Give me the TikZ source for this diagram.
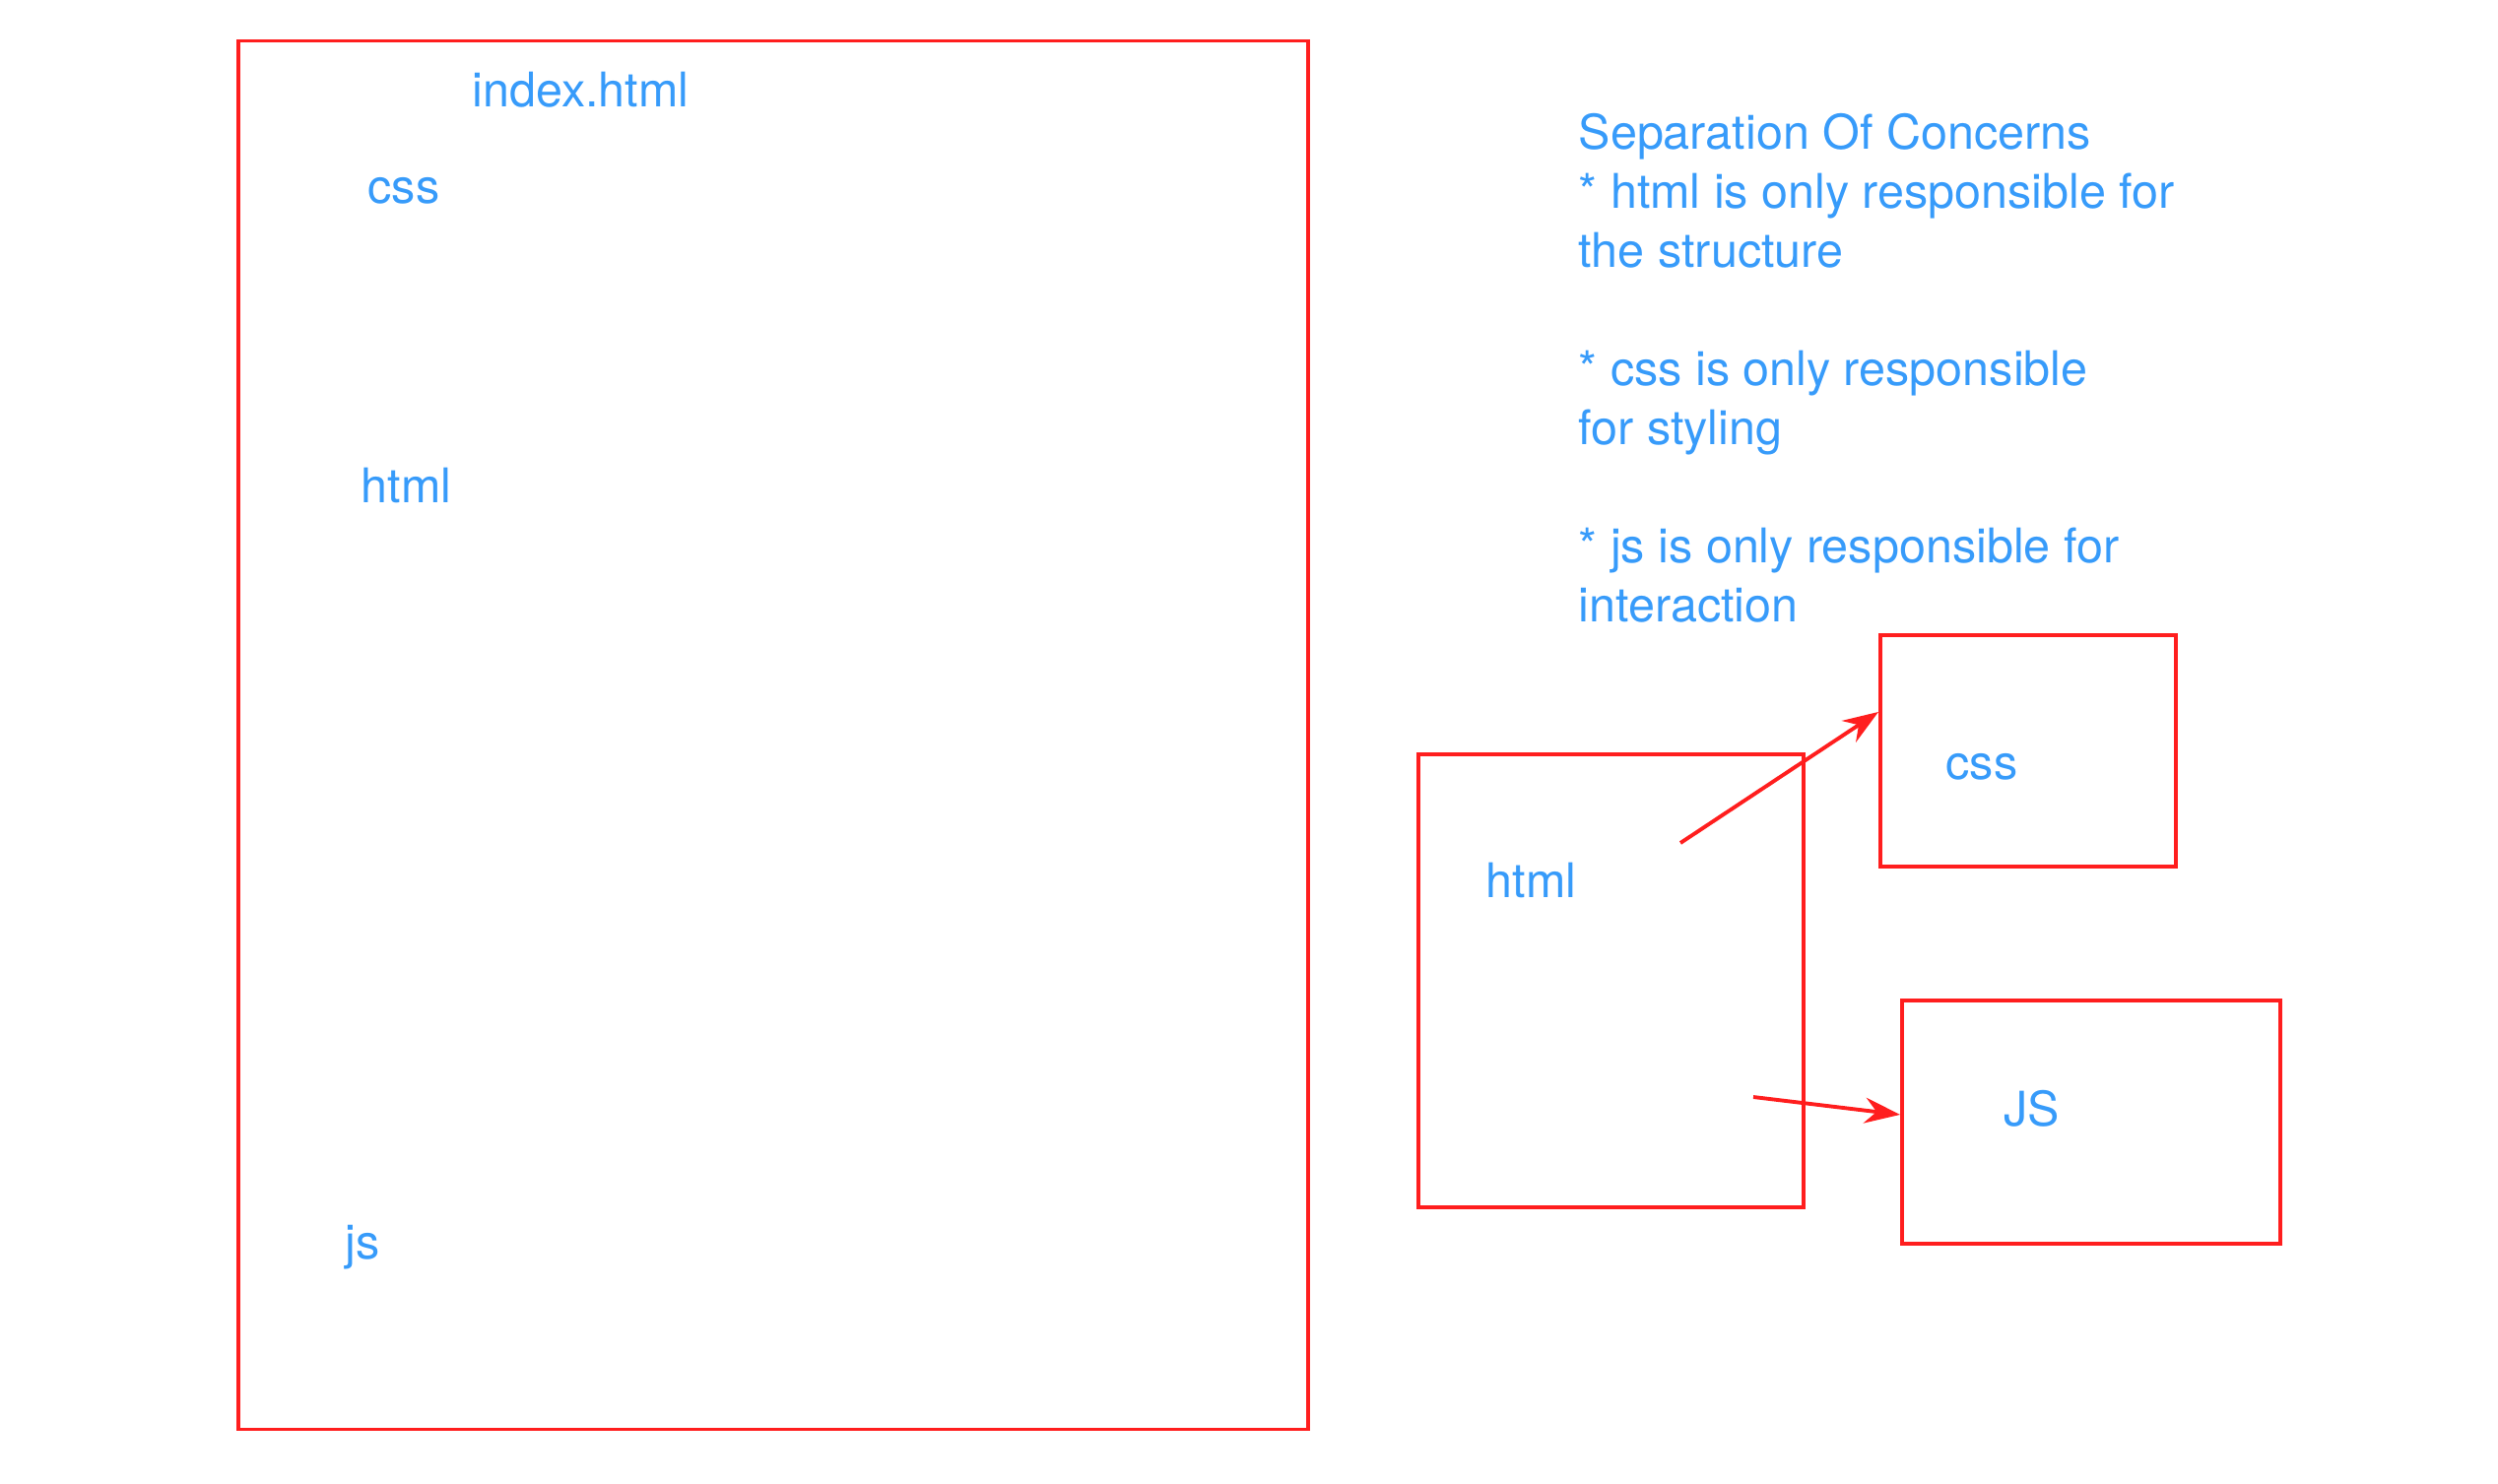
\documentclass[tikz,border=0pt]{standalone}
\usepackage{fontspec}
\setmainfont{TeX Gyre Heros}
\usepackage{xcolor}
\usepackage{tikz}
\usetikzlibrary{arrows.meta, positioning}

\definecolor{boxred}{RGB}{255,30,30}
\definecolor{textblue}{RGB}{55,155,250}

\begin{document}
\begin{tikzpicture}[
    box/.style={rectangle, draw=boxred, line width=1.1pt, inner sep=0pt, anchor=north west},
    lbl/.style={inner sep=0pt, anchor=base west, text=textblue, font=\fontsize{13.8}{17.07}\selectfont},
    arrow/.style={-{Stealth[length=3.6mm, width=2.6mm, inset=1.2mm]}, draw=boxred, line width=1.1pt}
]
\useasboundingbox (0,0) rectangle (25.36,-15.06);

% Page file
\node[box, minimum width=10.86cm, minimum height=14.10cm] (page) at (2.40,-0.395) {};
\node[lbl] (pagename) at (4.79,-1.08) {index.html};
\node[lbl] (pagecss) at (3.73,-2.06) {css};
\node[lbl] (pagehtml) at (3.66,-5.10) {html};
\node[lbl] (pagejs) at (3.50,-12.78) {js};

% Notes (base = last line)
\node[lbl, align=left] (notes) at (16.02,-6.31) {Separation Of Concerns\\
* html is only responsible for\\
the structure\\[0.6cm]
* css is only responsible\\
for styling\\[0.6cm]
* js is only responsible for\\
interaction};

% Separate files
\node[box, minimum width=3.91cm, minimum height=4.60cm] (htmlbox) at (14.38,-7.64) {};
\node[box, minimum width=3.00cm, minimum height=2.35cm] (cssbox) at (19.07,-6.43) {};
\node[box, minimum width=3.84cm, minimum height=2.47cm] (jsbox) at (19.29,-10.14) {};

\node[lbl] (htmllbl) at (15.08,-9.11) {html};
\node[lbl] (csslbl) at (19.75,-7.91) {css};
\node[lbl] (jslbl) at (20.34,-11.43) {JS};

% Arrows
\coordinate (tocss) at (17.06,-8.56);
\coordinate (tojs) at (17.80,-11.14);
\draw[arrow] (tocss) -- ([yshift=0.395cm]cssbox.west);
\draw[arrow] (tojs) -- ([yshift=0.075cm]jsbox.west);

\end{tikzpicture}
\end{document}
